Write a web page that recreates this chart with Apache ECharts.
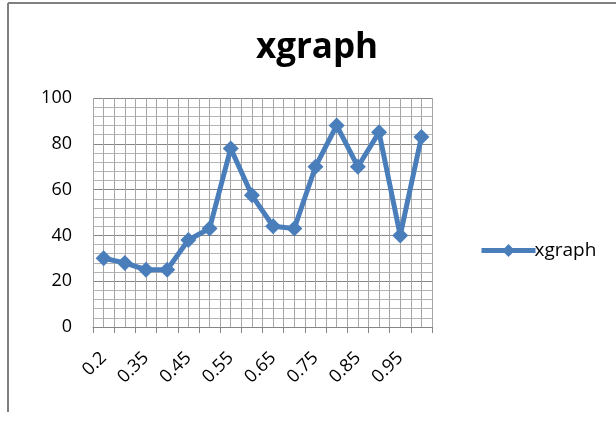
<!DOCTYPE html>
<html>
<head>
<meta charset="utf-8">
<script src="https://cdn.jsdelivr.net/npm/echarts@6/dist/echarts.min.js"></script>
<style>
  html, body { margin: 0; padding: 0; background: #fff; }
  #chart { width: 616px; height: 421px; }
</style>
</head>
<body>
<div id="chart"></div>
<script>
// data
const categories = ['0.2', '0.3', '0.35', '0.4', '0.45', '0.5', '0.55', '0.6',
  '0.65', '0.7', '0.75', '0.8', '0.85', '0.9', '0.95', '1']
const values = [30, 28, 25, 25, 38, 43, 78, 57.5, 44, 43, 70, 88, 70, 85, 40, 83]
const yTicks = [0, 20, 40, 60, 80, 100]

const chart = echarts.init(document.getElementById('chart'))

chart.setOption({
  animation: false,
  title: {
    text: 'xgraph',
    left: 312,
    top: 26,
    textAlign: 'center',
    textStyle: { fontFamily: 'Open Sans', fontSize: 35, fontWeight: 'bold', color: '#000' }
  },
  legend: {
    left: 474,
    top: 236,
    itemWidth: 54,
    itemHeight: 16,
    itemGap: 2,
    lineStyle: { width: 5 },
    textStyle: { fontFamily: 'Open Sans', fontSize: 19, color: '#000', padding: [0, 0, 0, -6] },
    data: ['xgraph']
  },
  grid: { left: 93, right: 184, top: 98, bottom: 94 },
  xAxis: [
    {
      type: 'category',
      data: categories,
      boundaryGap: true,
      axisLine: { lineStyle: { color: '#868686' } },
      axisTick: { show: true, interval: 0, length: 6, lineStyle: { color: '#868686' } },
      axisLabel: {
        interval: 1,
        rotate: 45,
        margin: 28,
        fontFamily: 'Open Sans',
        fontSize: 18,
        color: '#000'
      },
      splitLine: { show: false }
    },
    {
      // hidden axis that only draws the vertical grid
      type: 'value',
      min: 0,
      max: 32,
      interval: 1,
      position: 'bottom',
      show: true,
      axisLine: { show: false },
      axisTick: { show: false },
      axisLabel: { show: false },
      splitLine: { show: true, lineStyle: { color: '#a6a6a6', width: 1 } }
    }
  ],
  yAxis: {
    type: 'value',
    min: 0,
    max: 100,
    interval: 20,
    axisLine: { show: false },
    axisTick: { show: false },
    axisLabel: {
      margin: 21,
      fontFamily: 'Open Sans',
      fontSize: 18,
      color: '#000',
      formatter: v => (yTicks.includes(v) ? String(v) : '')
    },
    splitLine: { show: true, lineStyle: { color: '#868686', width: 1 } },
    minorTick: { show: false, splitNumber: 5 },
    minorSplitLine: { show: true, lineStyle: { color: '#b3b3b3', width: 1 } }
  },
  series: [
    {
      name: 'xgraph',
      type: 'line',
      xAxisIndex: 0,
      data: values,
      symbol: 'diamond',
      symbolSize: 16,
      showAllSymbol: true,
      lineStyle: { width: 5, color: '#4a7ebb' },
      itemStyle: { color: '#4a7ebb' },
      z: 5
    }
  ],
  graphic: [
    { type: 'line', shape: { x1: 8, y1: 3, x2: 8, y2: 412 }, style: { stroke: '#808080', lineWidth: 2 } },
    { type: 'line', shape: { x1: 8, y1: 3, x2: 616, y2: 3 }, style: { stroke: '#808080', lineWidth: 2 } }
  ]
})
</script>
</body>
</html>
